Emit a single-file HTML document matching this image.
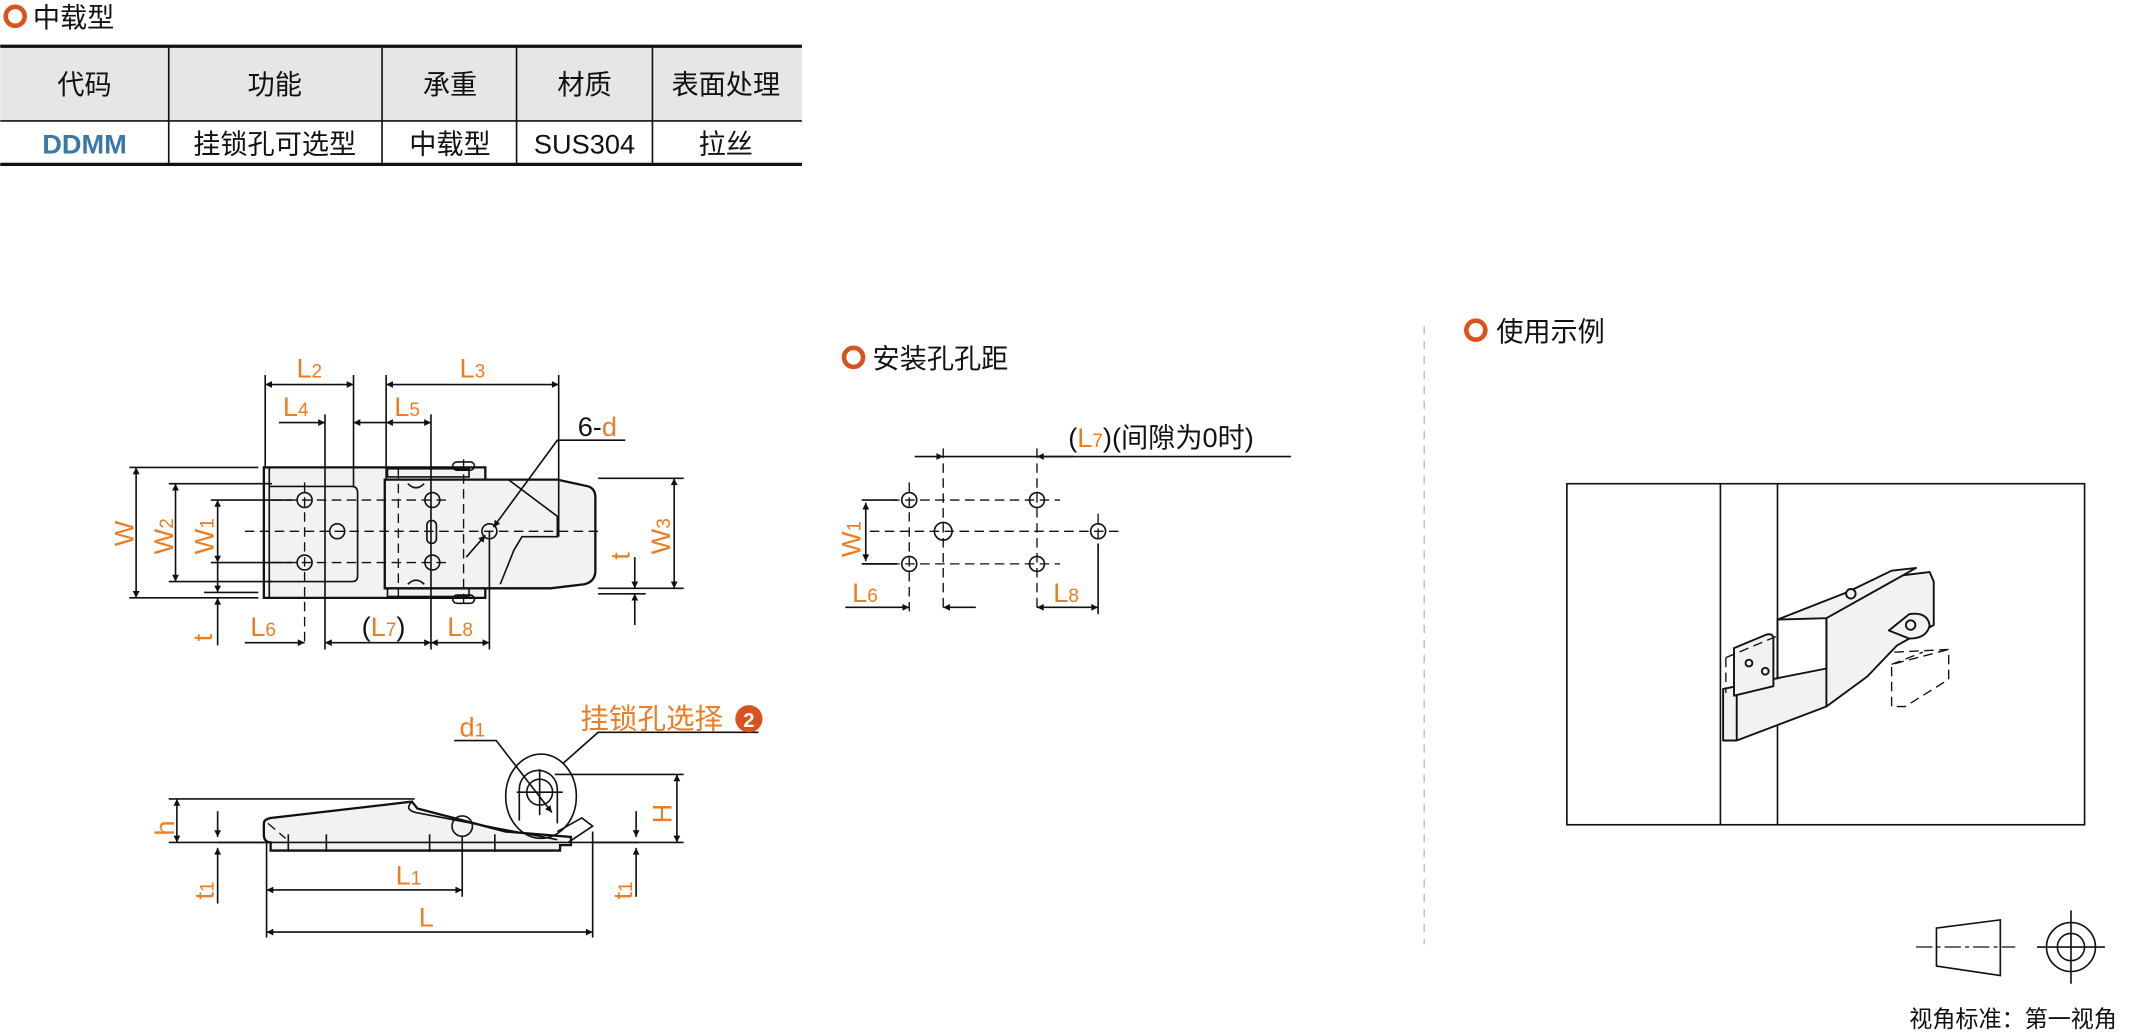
<!DOCTYPE html>
<html><head><meta charset="utf-8"><style>
html,body{margin:0;padding:0;background:#fff;}
svg{display:block;}
text{font-family:"Liberation Sans","Noto Sans CJK SC",sans-serif;}
.o{fill:#ee7d22;}
.k{fill:#111;}
.ln{stroke:#111;stroke-width:1.2;fill:none;}
.dash{stroke:#111;stroke-width:1;fill:none;stroke-dasharray:7 4;}
.cl{stroke:#111;stroke-width:0.9;fill:none;stroke-dasharray:12 3 3 3;}
.body{fill:#f2f2f2;stroke:#111;stroke-width:1.7;}
</style></head><body>
<svg width="2131" height="1034" viewBox="0 0 1568 761" xmlns="http://www.w3.org/2000/svg">
<defs>
<marker id="a" viewBox="0 0 10 10" refX="10" refY="5" markerWidth="9" markerHeight="5" orient="auto-start-reverse" markerUnits="userSpaceOnUse"><path d="M0,0 L10,5 L0,10z" fill="#111"/></marker>
</defs>

<circle cx="11" cy="12" r="7" fill="none" stroke="#d9531e" stroke-width="3.4"/>
<text x="24" y="20" font-size="20" class="k">中载型</text>

<rect x="0" y="34" width="590" height="55" fill="#e6e6e6"/>
<line x1="0" y1="34" x2="590" y2="34" stroke="#111" stroke-width="2.4"/>
<line x1="0" y1="89" x2="590" y2="89" stroke="#111" stroke-width="1.2"/>
<line x1="0" y1="121" x2="590" y2="121" stroke="#111" stroke-width="2.4"/>
<g stroke="#111" stroke-width="1.2"><line x1="124" y1="34" x2="124" y2="121"/><line x1="281" y1="34" x2="281" y2="121"/><line x1="380" y1="34" x2="380" y2="121"/><line x1="480" y1="34" x2="480" y2="121"/></g>
<g font-size="20" text-anchor="middle" class="k">
<text x="62" y="69">代码</text><text x="202" y="69">功能</text><text x="331" y="69">承重</text><text x="430" y="69">材质</text><text x="534" y="69">表面处理</text></g>
<g font-size="20" text-anchor="middle" class="k">
<text x="62" y="113" font-weight="bold" style="fill:#3a78a8">DDMM</text><text x="202" y="113">挂锁孔可选型</text><text x="331" y="113">中载型</text><text x="430" y="113">SUS304</text><text x="534" y="113">拉丝</text></g>

<!-- TOP VIEW -->
<path class="body" d="M194,344 H357 V440 H194 Z"/>
<path class="body" d="M283,353 H410 L433,358 Q438,360 438,366 V420 Q438,428 430,430 L405,433 H283 Z"/>
<path class="ln" d="M198,358 H259 Q263,358 263,363 V424 Q263,428 259,428 H198"/>
<line class="ln" x1="198" y1="344" x2="198" y2="440"/>
<path class="ln" d="M374,353 L410,380 V395 H384 L378,405 L368,430"/>
<path class="ln" d="M300,356 Q306,362 312,356 M300,430 Q306,424 312,430"/>
<rect x="285" y="345" width="60" height="6" class="ln"/>
<rect x="285" y="433" width="60" height="6" class="ln"/>
<rect x="333" y="340" width="16" height="6" rx="3" class="ln"/>
<rect x="333" y="438" width="16" height="6" rx="3" class="ln"/>
<g class="ln" stroke-width="1.4">
<circle cx="224" cy="368" r="5.5"/><circle cx="224" cy="414" r="5.5"/><circle cx="248" cy="391" r="5.5"/>
<circle cx="318" cy="368" r="5.5"/><circle cx="318" cy="414" r="5.5"/><circle cx="360" cy="391" r="5.5"/>
<rect x="314" y="383" width="7" height="17" rx="3.5"/></g>
<g class="dash">
<line x1="180" y1="391" x2="440" y2="391"/><line x1="200" y1="368" x2="330" y2="368"/><line x1="200" y1="414" x2="330" y2="414"/>
<line x1="224" y1="355" x2="224" y2="476"/><line x1="341" y1="338" x2="341" y2="445"/><line x1="293" y1="345" x2="293" y2="440"/></g>
<g class="ln" stroke-width="0.9">
<line x1="195" y1="276" x2="195" y2="344"/><line x1="260" y1="276" x2="260" y2="358"/><line x1="284" y1="276" x2="284" y2="353"/><line x1="411" y1="276" x2="411" y2="395"/>
<line x1="239" y1="305" x2="239" y2="478"/><line x1="317" y1="305" x2="317" y2="478"/><line x1="360" y1="391" x2="360" y2="478"/>
<line x1="95" y1="344" x2="190" y2="344"/><line x1="95" y1="440" x2="190" y2="440"/>
<line x1="124" y1="356" x2="200" y2="356"/><line x1="124" y1="428" x2="200" y2="428"/>
<line x1="155" y1="368" x2="215" y2="368"/><line x1="155" y1="414" x2="215" y2="414"/>
<line x1="440" y1="352" x2="503" y2="352"/><line x1="440" y1="433" x2="503" y2="433"/>
<line x1="440" y1="437" x2="475" y2="437"/>
<line x1="150" y1="436" x2="190" y2="436"/>
</g>
<g class="ln" stroke-width="1">
<line x1="195" y1="283" x2="260" y2="283" marker-start="url(#a)" marker-end="url(#a)"/>
<line x1="284" y1="283" x2="411" y2="283" marker-start="url(#a)" marker-end="url(#a)"/>
<line x1="205" y1="311" x2="239" y2="311" marker-end="url(#a)"/><line x1="284" y1="311" x2="260" y2="311" marker-end="url(#a)"/>
<line x1="284" y1="311" x2="317" y2="311" marker-start="url(#a)" marker-end="url(#a)"/>
<line x1="100" y1="344" x2="100" y2="440" marker-start="url(#a)" marker-end="url(#a)"/>
<line x1="129" y1="356" x2="129" y2="428" marker-start="url(#a)" marker-end="url(#a)"/>
<line x1="160" y1="368" x2="160" y2="414" marker-start="url(#a)" marker-end="url(#a)"/>
<line x1="160" y1="414" x2="160" y2="436" marker-end="url(#a)"/><line x1="160" y1="475" x2="160" y2="440" marker-end="url(#a)"/>
<line x1="496" y1="352" x2="496" y2="433" marker-start="url(#a)" marker-end="url(#a)"/>
<line x1="467" y1="410" x2="467" y2="433" marker-end="url(#a)"/><line x1="467" y1="460" x2="467" y2="437" marker-end="url(#a)"/>
<line x1="180" y1="473" x2="224" y2="473" marker-end="url(#a)"/>
<line x1="239" y1="473" x2="317" y2="473" marker-start="url(#a)" marker-end="url(#a)"/>
<line x1="317" y1="473" x2="360" y2="473" marker-start="url(#a)" marker-end="url(#a)"/>
<polyline points="460,324 410,324 363,388" marker-end="url(#a)"/>
<line x1="343" y1="410" x2="357" y2="394" marker-end="url(#a)"/>
</g>
<g font-size="20" class="o">
<text x="218" y="278">L<tspan font-size="14">2</tspan></text>
<text x="338" y="278">L<tspan font-size="14">3</tspan></text>
<text x="208" y="306">L<tspan font-size="14">4</tspan></text>
<text x="290" y="306">L<tspan font-size="14">5</tspan></text>
<text x="184" y="468">L<tspan font-size="14">6</tspan></text>
<text x="266" y="468"><tspan class="k">(</tspan>L<tspan font-size="14">7</tspan><tspan class="k">)</tspan></text>
<text x="329" y="468">L<tspan font-size="14">8</tspan></text>
<text x="425" y="321"><tspan class="k">6-</tspan>d</text>
<text transform="translate(98,402) rotate(-90)">W</text>
<text transform="translate(127,408) rotate(-90)">W<tspan font-size="14">2</tspan></text>
<text transform="translate(157,408) rotate(-90)">W<tspan font-size="14">1</tspan></text>
<text transform="translate(493,408) rotate(-90)">W<tspan font-size="14">3</tspan></text>
<text transform="translate(463,412) rotate(-90)">t</text>
<text transform="translate(156,472) rotate(-90)">t</text>
</g>

<!-- SIDE VIEW -->
<path class="body" d="M199,620 Q194,620 194,614 V606 Q194,603 199,602 L303,590 L307,595 L372,612 L420,616 V622 H412 V626 H199 Z"/>
<path class="ln" d="M303,590 Q297,596 306,598 L410,618"/>
<path class="ln" stroke-width="1.4" d="M382,604 V581 A14,14 0 0 1 410,581 V606"/>
<path class="ln" stroke-width="1.4" d="M410,612 L428,602 L436,608 L418,620"/>
<line class="ln" x1="160" y1="620" x2="470" y2="620"/>
<g class="ln" stroke-width="1.4"><circle cx="340" cy="608" r="7.5"/><circle cx="397" cy="583" r="9.5"/></g>
<ellipse cx="398" cy="586" rx="26" ry="31" class="ln" stroke-width="0.9"/>
<line class="ln" stroke-width="0.8" x1="380" y1="583" x2="414" y2="583"/><line class="ln" stroke-width="0.8" x1="397" y1="566" x2="397" y2="600"/>
<path class="dash" d="M197,606 L210,617"/>
<g class="ln" stroke-width="0.9">
<line x1="212" y1="614" x2="212" y2="627"/><line x1="240" y1="614" x2="240" y2="627"/><line x1="316" y1="614" x2="316" y2="627"/><line x1="364" y1="614" x2="364" y2="627"/>
<line x1="196" y1="620" x2="196" y2="690"/><line x1="340" y1="615" x2="340" y2="660"/><line x1="436" y1="612" x2="436" y2="690"/>
<line x1="124" y1="588" x2="305" y2="588"/><line x1="124" y1="620" x2="194" y2="620"/>
<line x1="408" y1="570" x2="503" y2="570"/><line x1="436" y1="620" x2="503" y2="620"/>
</g>
<g class="ln" stroke-width="1">
<line x1="130" y1="588" x2="130" y2="620" marker-start="url(#a)" marker-end="url(#a)"/>
<line x1="498" y1="570" x2="498" y2="620" marker-start="url(#a)" marker-end="url(#a)"/>
<line x1="160" y1="597" x2="160" y2="616" marker-end="url(#a)"/><line x1="160" y1="665" x2="160" y2="624" marker-end="url(#a)"/>
<line x1="468" y1="597" x2="468" y2="616" marker-end="url(#a)"/><line x1="468" y1="660" x2="468" y2="624" marker-end="url(#a)"/>
<line x1="196" y1="655" x2="340" y2="655" marker-start="url(#a)" marker-end="url(#a)"/>
<line x1="196" y1="686" x2="436" y2="686" marker-start="url(#a)" marker-end="url(#a)"/>
<polyline points="334,545 365,545 406,598" marker-end="url(#a)"/>
<polyline points="558,539 440,539 414,562"/>
</g>
<g font-size="20" class="o">
<text x="338" y="542">d<tspan font-size="14">1</tspan></text>
<text x="427" y="536" font-size="21">挂锁孔选择</text>
<text x="291" y="651">L<tspan font-size="14">1</tspan></text>
<text x="308" y="682">L</text>
<text transform="translate(128,615) rotate(-90)">h</text>
<text transform="translate(494,606) rotate(-90)">H</text>
<text transform="translate(157,662) rotate(-90)">t<tspan font-size="14">1</tspan></text>
<text transform="translate(465,662) rotate(-90)">t<tspan font-size="14">1</tspan></text>
</g>
<circle cx="551" cy="529" r="10" fill="#d9531e"/>
<text x="551" y="535" font-size="15" font-weight="bold" fill="#fff" text-anchor="middle">2</text>

<!-- MOUNTING HOLES -->
<circle cx="628" cy="263" r="7" fill="none" stroke="#d9531e" stroke-width="3.4"/>
<text x="642" y="271" font-size="20" class="k">安装孔孔距</text>
<g class="ln" stroke-width="1.4">
<circle cx="669" cy="368" r="5.5"/><circle cx="763" cy="368" r="5.5"/><circle cx="669" cy="415" r="5.5"/><circle cx="763" cy="415" r="5.5"/><circle cx="694" cy="391" r="6.5"/><circle cx="808" cy="391" r="5.5"/></g>
<g class="dash">
<line x1="655" y1="368" x2="780" y2="368"/><line x1="655" y1="415" x2="780" y2="415"/><line x1="640" y1="391" x2="825" y2="391"/>
<line x1="669" y1="355" x2="669" y2="450"/><line x1="763" y1="330" x2="763" y2="450"/><line x1="694" y1="330" x2="694" y2="450"/><line x1="808" y1="378" x2="808" y2="404"/></g>
<g class="ln" stroke-width="1">
<line x1="634" y1="368" x2="660" y2="368"/><line x1="634" y1="415" x2="660" y2="415"/>
<line x1="808" y1="400" x2="808" y2="452"/>
<line x1="673" y1="336" x2="694" y2="336" marker-end="url(#a)"/>
<line x1="694" y1="336" x2="950" y2="336"/><line x1="790" y1="336" x2="763" y2="336" marker-end="url(#a)"/>
<line x1="637" y1="370" x2="637" y2="413" marker-start="url(#a)" marker-end="url(#a)"/>
<line x1="622" y1="447" x2="669" y2="447" marker-end="url(#a)"/><line x1="718" y1="447" x2="694" y2="447" marker-end="url(#a)"/>
<line x1="763" y1="447" x2="808" y2="447" marker-start="url(#a)" marker-end="url(#a)"/>
</g>
<text x="786" y="329" font-size="20" class="k">(<tspan class="o">L<tspan font-size="14">7</tspan></tspan>)(间隙为0时)</text>
<g font-size="20" class="o">
<text x="627" y="443">L<tspan font-size="14">6</tspan></text>
<text x="775" y="443">L<tspan font-size="14">8</tspan></text>
<text transform="translate(633,410) rotate(-90)">W<tspan font-size="14">1</tspan></text>
</g>

<line x1="1048" y1="240" x2="1048" y2="695" stroke="#bbb" stroke-width="1" stroke-dasharray="6 5"/>

<!-- USAGE -->
<circle cx="1086" cy="243" r="7" fill="none" stroke="#d9531e" stroke-width="3.4"/>
<text x="1101" y="251" font-size="20" class="k">使用示例</text>
<rect x="1153" y="356" width="381" height="251" class="ln"/>
<line class="ln" x1="1266" y1="356" x2="1266" y2="607"/><line class="ln" x1="1308" y1="356" x2="1308" y2="607"/>
<g stroke="#111" stroke-width="1.4" fill="#f2f2f2" stroke-linejoin="round">
<path d="M1268,507 L1344,492 L1344,455 L1359,442 L1395,424 L1420,421 L1423,428 L1423,460 L1396,475 L1374,498 L1344,520 L1278,545 L1268,545 Z"/>
<path d="M1308,456 L1359,436 L1392,420 L1410,418 L1344,455 Z"/>
<path d="M1276,477 L1300,467 Q1305,466 1305,470 L1305,505 L1276,512 Z"/>
<path d="M1344,455 V520 M1278,512 V545 M1308,456 V500"/>
<path d="M1390,464 L1405,452 Q1418,450 1420,460 Q1418,470 1405,470 Z"/>
<circle cx="1406" cy="460" r="3.5"/>
<circle cx="1362" cy="437" r="3.5"/>
<circle cx="1287" cy="488" r="2.5"/><circle cx="1299" cy="494" r="2.5"/>
</g>
<g class="dash" stroke-width="0.8">
<path d="M1270,484 L1308,468 M1270,484 V510 M1394,480 L1434,478 V500 L1402,520 H1392 V489 L1434,478 M1392,489 L1415,480"/>
</g>

<path class="ln" d="M1425,683 L1472,677 V718 L1425,711 Z"/>
<line class="cl" x1="1410" y1="697" x2="1483" y2="697"/>
<circle cx="1524" cy="697" r="18" class="ln"/><circle cx="1524" cy="697" r="10" class="ln"/>
<line class="ln" x1="1499" y1="697" x2="1549" y2="697"/><line class="ln" x1="1524" y1="670" x2="1524" y2="724"/>
<text x="1405" y="756" font-size="17" class="k">视角标准：第一视角</text>
</svg>
</body></html>
